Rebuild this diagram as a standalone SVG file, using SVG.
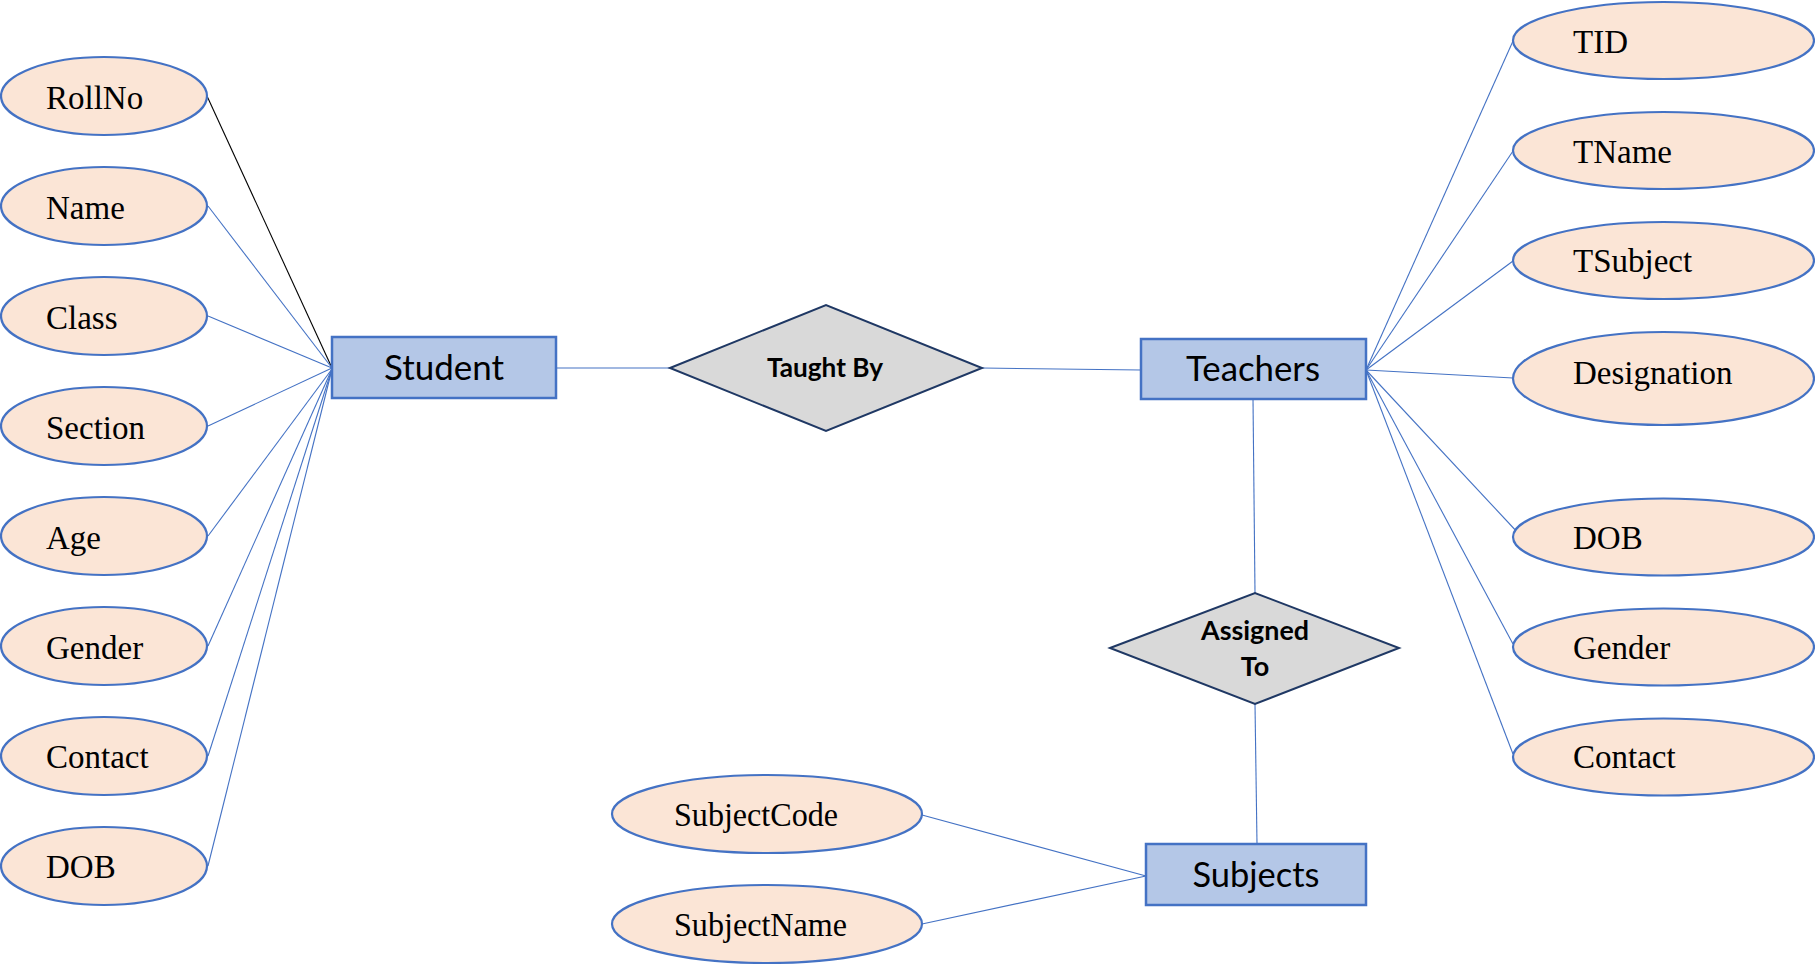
<svg xmlns="http://www.w3.org/2000/svg" width="1815" height="964" viewBox="0 0 1815 964">
<style>
.attr ellipse{fill:#FBE5D6;stroke:#4472C4;stroke-width:2.2}
.attr text{font-family:"Liberation Serif","Times New Roman",serif;font-size:33px;fill:#000}
.ent rect{fill:#B4C7E7;stroke:#4472C4;stroke-width:2.5}
.ent text{font-family:Lato,"Open Sans",sans-serif;font-size:35px;fill:#000;text-anchor:middle}
.rel polygon{fill:#D9D9D9;stroke:#1F3864;stroke-width:2}
.rel text{font-family:Lato,"Open Sans",sans-serif;font-size:27px;font-weight:bold;fill:#000;text-anchor:middle}
#connectors line{stroke:#4472C4;stroke-width:1.1}
#connectors line.dark{stroke:#000}
</style>
<rect width="1815" height="964" fill="#fff"/>
<g id="connectors">
<line class="dark" x1="207" y1="96" x2="332" y2="368"/>
<line x1="208" y1="206" x2="332" y2="368"/>
<line x1="208" y1="316" x2="332" y2="368"/>
<line x1="208" y1="426" x2="332" y2="368"/>
<line x1="208" y1="536" x2="332" y2="369"/>
<line x1="208" y1="646" x2="332" y2="369"/>
<line x1="208" y1="756" x2="332" y2="369"/>
<line x1="208" y1="866" x2="332" y2="369"/>
<line x1="556" y1="368" x2="670" y2="368"/>
<line x1="982" y1="368" x2="1141" y2="370"/>
<line x1="1366" y1="370" x2="1513" y2="41"/>
<line x1="1366" y1="370" x2="1513" y2="151"/>
<line x1="1366" y1="370" x2="1513" y2="261"/>
<line x1="1366" y1="370" x2="1513" y2="378"/>
<line x1="1366" y1="370" x2="1519" y2="534"/>
<line x1="1366" y1="370" x2="1513" y2="644"/>
<line x1="1366" y1="370" x2="1513" y2="754"/>
<line x1="1253" y1="399" x2="1255" y2="593"/>
<line x1="1255" y1="704" x2="1257" y2="844"/>
<line x1="922" y1="815" x2="1146" y2="876"/>
<line x1="922" y1="924" x2="1146" y2="876"/>
</g>
<g id="attr-rollno" class="attr"><ellipse cx="104" cy="96" rx="103" ry="39"/><text x="46" y="109">RollNo</text></g>
<g id="attr-name" class="attr"><ellipse cx="104" cy="206" rx="103" ry="39"/><text x="46" y="219">Name</text></g>
<g id="attr-class" class="attr"><ellipse cx="104" cy="316" rx="103" ry="39"/><text x="46" y="329">Class</text></g>
<g id="attr-section" class="attr"><ellipse cx="104" cy="426" rx="103" ry="39"/><text x="46" y="439">Section</text></g>
<g id="attr-age" class="attr"><ellipse cx="104" cy="536" rx="103" ry="39"/><text x="46" y="549">Age</text></g>
<g id="attr-gender" class="attr"><ellipse cx="104" cy="646" rx="103" ry="39"/><text x="46" y="659">Gender</text></g>
<g id="attr-contact" class="attr"><ellipse cx="104" cy="756" rx="103" ry="39"/><text x="46" y="768">Contact</text></g>
<g id="attr-dob" class="attr"><ellipse cx="104" cy="866" rx="103" ry="39"/><text x="46" y="878">DOB</text></g>
<g id="ent-student" class="ent"><rect x="332" y="337" width="224" height="61"/><text x="444" y="380" textLength="120" lengthAdjust="spacingAndGlyphs">Student</text></g>
<g id="rel-taughtby" class="rel"><polygon points="670,368 826,305 982,368 826,431"/><text x="825" y="377" textLength="116" lengthAdjust="spacingAndGlyphs">Taught By</text></g>
<g id="ent-teachers" class="ent"><rect x="1141" y="339" width="225" height="60"/><text x="1253" y="381" textLength="134" lengthAdjust="spacingAndGlyphs">Teachers</text></g>
<g id="rel-assignedto" class="rel"><polygon points="1110,648 1255,593 1399,648 1255,704"/><text x="1255" y="640" textLength="108" lengthAdjust="spacingAndGlyphs">Assigned</text><text x="1255" y="676">To</text></g>
<g id="ent-subjects" class="ent"><rect x="1146" y="844" width="220" height="61"/><text x="1256" y="887" textLength="127" lengthAdjust="spacingAndGlyphs">Subjects</text></g>
<g id="attr-tid" class="attr"><ellipse cx="1663.5" cy="40.5" rx="150.5" ry="38.5"/><text x="1573" y="53">TID</text></g>
<g id="attr-tname" class="attr"><ellipse cx="1663.5" cy="150.5" rx="150.5" ry="38.5"/><text x="1573" y="163">TName</text></g>
<g id="attr-tsubject" class="attr"><ellipse cx="1663.5" cy="260.5" rx="150.5" ry="38.5"/><text x="1573" y="272">TSubject</text></g>
<g id="attr-designation" class="attr"><ellipse cx="1663.5" cy="378.5" rx="150.5" ry="46.5"/><text x="1573" y="384">Designation</text></g>
<g id="attr-tdob" class="attr"><ellipse cx="1663.5" cy="537" rx="150.5" ry="38.5"/><text x="1573" y="549">DOB</text></g>
<g id="attr-tgender" class="attr"><ellipse cx="1663.5" cy="647" rx="150.5" ry="38.5"/><text x="1573" y="659">Gender</text></g>
<g id="attr-tcontact" class="attr"><ellipse cx="1663.5" cy="757" rx="150.5" ry="38.5"/><text x="1573" y="768">Contact</text></g>
<g id="attr-subjectcode" class="attr"><ellipse cx="767" cy="814" rx="155" ry="39"/><text x="674" y="826" textLength="164" lengthAdjust="spacingAndGlyphs">SubjectCode</text></g>
<g id="attr-subjectname" class="attr"><ellipse cx="767" cy="924" rx="155" ry="39"/><text x="674" y="936" textLength="173" lengthAdjust="spacingAndGlyphs">SubjectName</text></g>
</svg>
